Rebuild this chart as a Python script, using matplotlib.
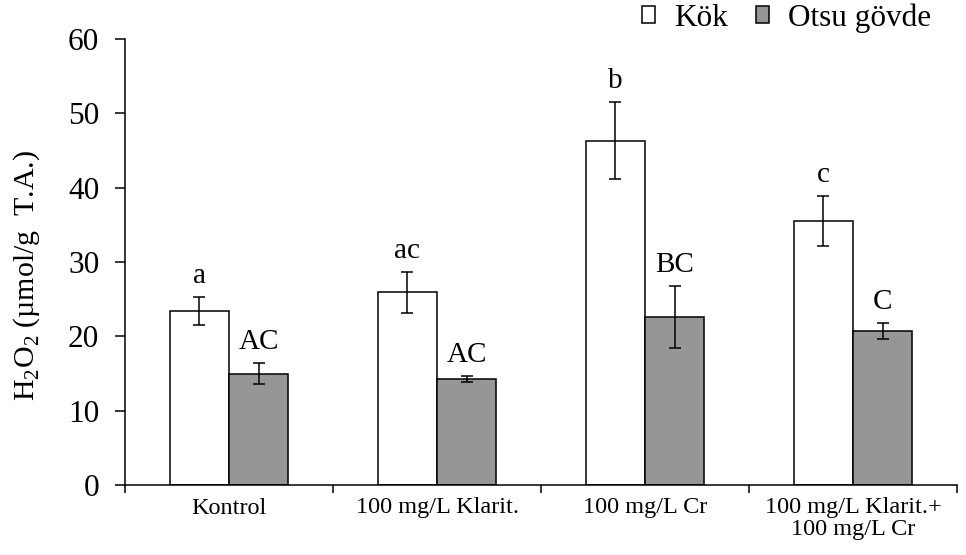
import matplotlib
matplotlib.use("Agg")
import matplotlib.pyplot as plt
import numpy as np
from matplotlib.patches import Patch

categories = ["Kontrol", "100 mg/L Klarit.", "100 mg/L Cr", "100 mg/L Klarit.+\n100 mg/L Cr"]
kok = [23.4, 25.9, 46.3, 35.5]
kok_err = [1.9, 2.7, 5.2, 3.35]
otsu = [15.0, 14.2, 22.6, 20.7]
otsu_err = [1.35, 0.4, 4.15, 1.05]
kok_letters = ["a", "ac", "b", "c"]
otsu_letters = ["AC", "AC", "BC", "C"]
yticks = [0, 10, 20, 30, 40, 50, 60]

plt.rcParams["font.family"] = ["Liberation Serif", "DejaVu Serif"]
plt.rcParams["mathtext.fontset"] = "custom"
plt.rcParams["mathtext.rm"] = "Liberation Serif"

fig = plt.figure(figsize=(9.66, 5.55), dpi=100)
ax = fig.add_axes([125 / 966, 70 / 555, 832 / 966, 446 / 555])

x = np.arange(len(categories)) + 0.5
w = 0.284
gray = "#969696"

ax.bar(x - w / 2, kok, w, color="white", edgecolor="black", linewidth=1.1, zorder=2)
ax.bar(x + w / 2, otsu, w, color=gray, edgecolor="black", linewidth=1.1, zorder=2)
ax.errorbar(x - w / 2, kok, yerr=kok_err, fmt="none", ecolor="black", elinewidth=1.1,
            capsize=4.3, capthick=1.1, zorder=3)
ax.errorbar(x + w / 2, otsu, yerr=otsu_err, fmt="none", ecolor="black", elinewidth=1.1,
            capsize=4.3, capthick=1.1, zorder=3)

for xi, v, e, t in zip(x - w / 2, kok, kok_err, kok_letters):
    ax.text(xi, v + e + 1.9, t, ha="center", va="baseline", fontsize=21)
for xi, v, e, t in zip(x + w / 2, otsu, otsu_err, otsu_letters):
    ax.text(xi, v + e + 1.9, t, ha="center", va="baseline", fontsize=21)

ax.set_xlim(0, len(categories))
ax.set_ylim(0, 60)
ax.set_yticks(yticks)
ax.tick_params(axis="y", labelsize=22.5, length=7.5, width=1.1, direction="out", pad=11)

ax.set_xticks(x)
ax.set_xticklabels(categories, fontsize=17.5, linespacing=1.05)
ax.set_xticks(np.arange(len(categories) + 1), minor=True)
ax.tick_params(axis="x", which="major", length=0, pad=9)
ax.tick_params(axis="x", which="minor", length=6, width=1.1, direction="out")

for s in ["top", "right"]:
    ax.spines[s].set_visible(False)
for s in ["left", "bottom"]:
    ax.spines[s].set_linewidth(1.1)

ax.set_ylabel(r"H$_2$O$_2$ (µmol/g  T.A.)", fontsize=21.5)
ax.yaxis.set_label_coords(-0.100, 0.47)

handles = [Patch(facecolor="white", edgecolor="black", linewidth=1.1, label="Kök"),
           Patch(facecolor=gray, edgecolor="black", linewidth=1.1, label="Otsu gövde")]
fig.legend(handles=handles, loc="upper right", bbox_to_anchor=(0.993, 1.045), ncol=2,
           frameon=False, fontsize=22.5, handlelength=0.42, handleheight=0.42,
           handletextpad=0.6, columnspacing=0.9)

fig.savefig("out.png", dpi=100)
